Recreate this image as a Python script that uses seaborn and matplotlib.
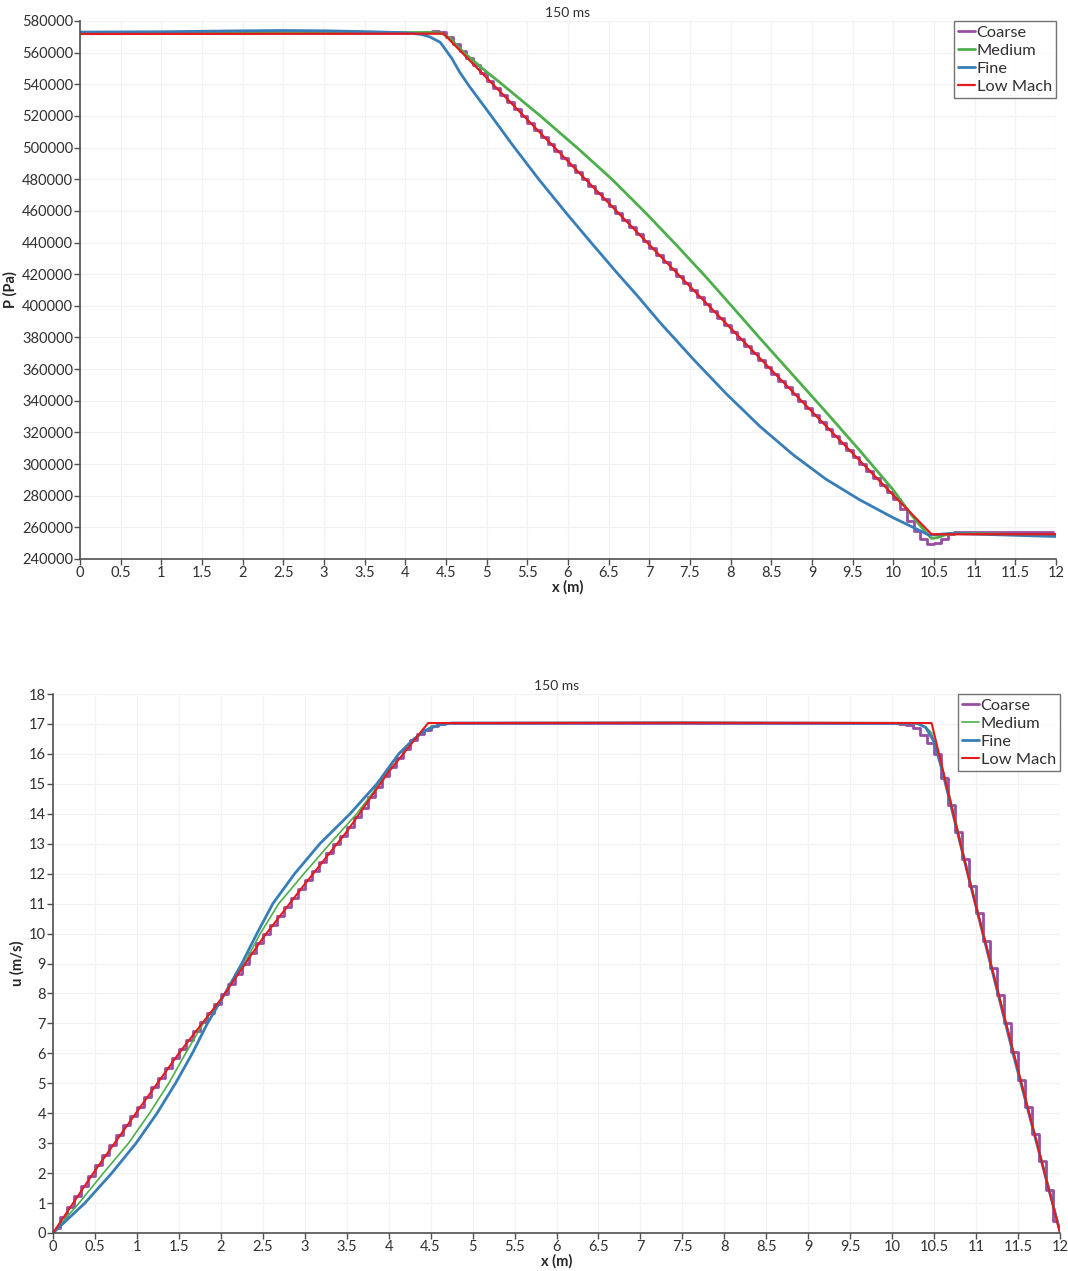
import numpy as np
import pandas as pd
import matplotlib
matplotlib.use('Agg')
import matplotlib.pyplot as plt
from matplotlib.ticker import FuncFormatter, MultipleLocator
import seaborn as sns

labels = ['Coarse', 'Medium', 'Fine', 'Low Mach']
colors = ['#984ea3', '#4daf4a', '#377eb8', '#e41a1c']

# coarse mesh is cell data, 12 cells per metre (plotted as steps)
coarse_x = (np.arange(144) + 0.5) / 12

coarse_p = [
    572400, 572400, 572400, 572400, 572400, 572400, 572400, 572400, 572400, 572400, 572400, 572400,
    572400, 572400, 572400, 572400, 572400, 572400, 572400, 572400, 572400, 572400, 572400, 572400,
    572400, 572400, 572400, 572400, 572400, 572400, 572400, 572400, 572400, 572400, 572400, 572400,
    572400, 572400, 572400, 572400, 572400, 572400, 572400, 572400, 572400, 572400, 572400, 572400,
    572400, 572500, 572700, 573200, 573600, 573300, 570000, 565500, 561000, 556500, 552000, 547000,
    542000, 537600, 533200, 528800, 524400, 520000, 515600, 511200, 506800, 502400, 498000, 493600,
    489200, 484800, 480400, 476000, 471600, 467200, 462800, 458400, 454000, 449600, 445200, 440800,
    436400, 432000, 427600, 423200, 418800, 414400, 410000, 405600, 401200, 396800, 392400, 388000,
    383600, 379200, 374800, 370400, 366000, 361600, 357200, 352800, 348400, 344000, 339600, 335200,
    330800, 326400, 322000, 317600, 313200, 308800, 304400, 300000, 295600, 291200, 286800, 282400,
    278000, 271500, 264000, 257500, 252500, 249500, 250000, 252500, 255500, 257000, 257000, 257000,
    257000, 257000, 257000, 257000, 257000, 257000, 256900, 256900, 256900, 256800, 256800, 256800,
]

coarse_u = [
    0.17, 0.52, 0.87, 1.22, 1.57, 1.92, 2.27, 2.60, 2.93, 3.26, 3.60, 3.92,
    4.21, 4.53, 4.86, 5.18, 5.51, 5.83, 6.15, 6.45, 6.75, 7.05, 7.35, 7.65,
    7.97, 8.31, 8.65, 9.00, 9.34, 9.68, 10.00, 10.30, 10.60, 10.90, 11.20, 11.50,
    11.80, 12.10, 12.40, 12.70, 13.00, 13.25, 13.55, 13.90, 14.20, 14.55, 14.90, 15.25,
    15.55, 15.85, 16.15, 16.45, 16.65, 16.80, 16.93, 17.00, 17.03, 17.04, 17.04, 17.04,
    17.04, 17.04, 17.04, 17.04, 17.04, 17.04, 17.04, 17.04, 17.04, 17.04, 17.04, 17.04,
    17.04, 17.04, 17.04, 17.04, 17.04, 17.04, 17.04, 17.04, 17.04, 17.04, 17.04, 17.04,
    17.04, 17.04, 17.04, 17.04, 17.04, 17.03, 17.03, 17.03, 17.03, 17.03, 17.03, 17.03,
    17.03, 17.03, 17.03, 17.03, 17.03, 17.03, 17.03, 17.03, 17.03, 17.03, 17.03, 17.03,
    17.03, 17.03, 17.03, 17.03, 17.03, 17.03, 17.02, 17.02, 17.02, 17.02, 17.02, 17.02,
    17.02, 17.01, 16.97, 16.85, 16.62, 16.35, 16.00, 15.20, 14.30, 13.40, 12.50, 11.60,
    10.70, 9.75, 8.85, 7.95, 7.00, 6.05, 5.10, 4.20, 3.30, 2.40, 1.45, 0.40,
]

# pressure, other series (point data)
medium_p_x = [0, 3.0, 4.0, 4.3, 4.45, 4.55, 4.72, 4.96, 5.19, 5.66, 6.11, 6.54, 6.95, 7.34,
              7.7, 7.95, 8.36, 8.77, 9.17, 9.58, 9.99, 10.23, 10.4, 10.47, 10.55, 10.65,
              10.8, 12.0]
medium_p = [572800, 572800, 572700, 572800, 572300, 569000, 560000, 549500, 540000, 520000,
            500000, 480000, 459000, 438000, 418000, 403500, 379500, 356000, 333000, 309000,
            284200, 267400, 256800, 253000, 253600, 255500, 256300, 255000]

fine_p_x = [0, 1.0, 2.0, 2.5, 3.0, 3.5, 4.0, 4.2, 4.3, 4.43, 4.57, 4.67, 4.79, 4.92, 5.05,
            5.32, 5.64, 5.98, 6.3, 6.6, 6.85, 7.13, 7.54, 7.95, 8.36, 8.77, 9.17, 9.58,
            9.99, 10.44, 10.55, 10.7, 12.0]
fine_p = [573000, 573200, 573800, 574000, 573800, 573300, 572600, 571500, 570000, 566500,
          556500, 547500, 538500, 529500, 520500, 501500, 480000, 458500, 439000, 421000,
          406500, 389500, 366300, 344200, 323800, 305800, 290500, 277600, 266300, 255100,
          255500, 256200, 254200]

lowmach_p_x = [0, 4.47, 10.47, 12.0]
lowmach_p = [571800, 572000, 255600, 255700]

# velocity
medium_u_x = [0, 0.31, 0.6, 0.9, 1.15, 1.38, 1.58, 1.79, 2.05, 2.28, 2.47, 2.69, 2.99, 3.3,
              3.62, 3.89, 4.12, 4.35, 4.5, 4.7, 7.5, 10.3, 10.4, 10.47, 10.55, 10.65, 10.9,
              11.44, 12.0]
medium_u = [0, 1, 2, 3, 4, 5, 6, 7, 8, 9, 10, 11, 12, 13, 14, 15, 16, 16.6, 16.9, 17.03,
            17.04, 17.02, 16.9, 16.7, 16.0, 15.0, 12.1, 6.1, 0.1]

fine_u_x = [0, 0.38, 0.7, 0.99, 1.24, 1.46, 1.66, 1.84, 2.05, 2.25, 2.43, 2.62, 2.88, 3.18,
            3.54, 3.86, 4.12, 4.3, 4.45, 4.6, 4.75, 7.5, 10.3, 10.4, 10.5, 10.6, 10.9,
            11.44, 12.0]
fine_u = [0, 1, 2, 3, 4, 5, 6, 7, 8, 9, 10, 11, 12, 13, 14, 15, 16, 16.5, 16.8, 16.97,
          17.03, 17.04, 17.02, 16.88, 16.4, 15.4, 12.0, 6.0, 0.05]

lowmach_u_x = [0, 0.5, 1.0, 1.5, 2.0, 2.5, 3.0, 3.5, 4.0, 4.47, 7.5, 10.47, 10.9, 11.44, 12.0]
lowmach_u = [0, 2.08, 4.05, 6.0, 7.8, 9.85, 11.65, 13.4, 15.4, 17.03, 17.04, 17.03, 12.0,
             6.1, 0.0]

sns.set_style('white')
plt.rcParams['font.family'] = ['Lato', 'DejaVu Sans']

fig = plt.figure(figsize=(10.68, 12.71), dpi=100)
ax1 = fig.add_axes([80/1068, 1-559/1271, 976/1068, 538/1271])
ax2 = fig.add_axes([53/1068, 1-1233/1271, 1007/1068, 539/1271])


def draw(ax, series, widths):
    for (xs, ys, step), lab, col, lw in zip(series, labels, colors, widths):
        kw = {'drawstyle': 'steps-mid'} if step else {}
        sns.lineplot(x=xs, y=ys, ax=ax, color=col, linewidth=lw, label=lab,
                     estimator=None, sort=False, **kw)


draw(ax1, [(coarse_x, coarse_p, True), (medium_p_x, medium_p, False),
           (fine_p_x, fine_p, False), (lowmach_p_x, lowmach_p, False)],
     [2.0, 2.0, 2.0, 1.6])
draw(ax2, [(coarse_x, coarse_u, True), (medium_u_x, medium_u, False),
           (fine_u_x, fine_u, False), (lowmach_u_x, lowmach_u, False)],
     [2.0, 1.2, 2.0, 1.5])

fmt = FuncFormatter(lambda v, p: '{:g}'.format(v))
for ax, ylab, lo, hi, step in [(ax1, 'P (Pa)', 240000, 580000, 20000),
                               (ax2, 'u (m/s)', 0, 18, 1)]:
    ax.set_xlim(0, 12)
    ax.set_ylim(lo, hi)
    ax.xaxis.set_major_locator(MultipleLocator(0.5))
    ax.yaxis.set_major_locator(MultipleLocator(step))
    ax.xaxis.set_major_formatter(fmt)
    ax.yaxis.set_major_formatter(FuncFormatter(lambda v, p: '%d' % round(v)))
    ax.grid(True, color='#f2f2f2', linewidth=0.9)
    for s in ['top', 'right']:
        ax.spines[s].set_visible(False)
    for s in ['left', 'bottom']:
        ax.spines[s].set_color('#505050')
        ax.spines[s].set_linewidth(1.2)
    ax.tick_params(direction='out', length=4, width=1, color='#505050',
                   labelsize=10.5, labelcolor='#303030', pad=1,
                   left=True, bottom=True)
    ax.set_xlabel('x (m)', fontsize=10.5, fontweight='bold', labelpad=0)
    ax.set_ylabel(ylab, fontsize=10.5, fontweight='bold', labelpad=3)
    ax.set_title('150 ms', fontsize=10, color='#303030', pad=3)
    leg = ax.legend(loc='upper right', frameon=True, fancybox=False, borderaxespad=0,
                    handlelength=1.0, handletextpad=0.12, labelspacing=0.22,
                    borderpad=0.25, fontsize=11.8)
    leg.get_frame().set_edgecolor('#505050')
    leg.get_frame().set_linewidth(1.0)
    for t in leg.get_texts():
        t.set_color('#303030')

fig.savefig('out.png', dpi=100)
